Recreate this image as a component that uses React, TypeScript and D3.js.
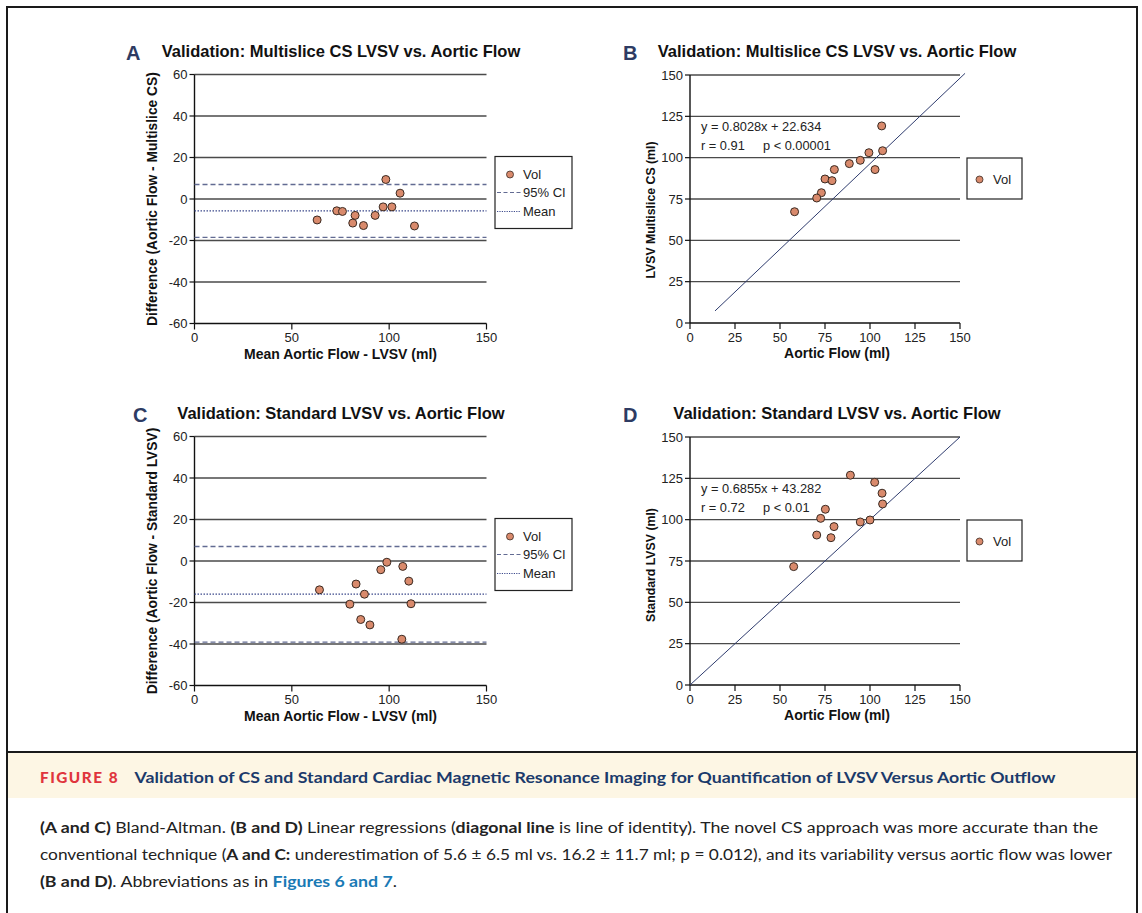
import React from "react";
import * as d3 from "d3";

// tick values
const baTicks = [-60, -40, -20, 0, 20, 40, 60];
const baXTicks = [0, 50, 100, 150];
const regTicks = [0, 25, 50, 75, 100, 125, 150];

// A: Bland-Altman multislice CS
const multisliceMean = [63.0, 73.1, 76.0, 82.5, 81.3, 86.8, 92.8, 96.9, 98.3, 101.4, 105.6, 113.0];
const multisliceDiff = [-10.1, -5.7, -6.0, -7.9, -11.6, -12.8, -7.9, -3.8, 9.4, -3.8, 2.8, -13.0];
const multisliceLimits = [7.0, -5.7, -18.5]; // upper 95% CI, mean, lower 95% CI

// C: Bland-Altman standard
const standardMean = [64.2, 83.0, 79.8, 87.3, 85.4, 90.1, 95.7, 98.8, 107.0, 110.1, 111.2, 106.5];
const standardDiff = [-13.9, -11.1, -20.8, -16.0, -28.2, -30.8, -4.2, -0.6, -2.6, -9.7, -20.6, -37.7];
const standardLimits = [7.0, -16.0, -39.1];

// B: regression multislice CS
const multisliceAortic = [106.5, 107.0, 99.4, 94.6, 88.5, 80.2, 102.8, 75.0, 78.9, 73.0, 70.4, 58.1];
const multisliceLvsv = [119.2, 104.2, 103.0, 98.4, 96.4, 92.8, 92.8, 87.1, 86.1, 78.8, 75.6, 67.3];
const multisliceIdentity: [number, number][] = [[13.9, 7.3], [152.8, 151]];

// D: regression standard
const standardAortic = [89.1, 102.6, 106.7, 107.0, 75.2, 72.6, 94.6, 100.0, 80.0, 70.4, 78.3, 57.6];
const standardLvsv = [126.9, 122.6, 116.0, 109.5, 106.3, 100.8, 98.6, 99.8, 95.8, 90.7, 89.1, 71.6];
const standardIdentity: [number, number][] = [[0, 0], [150, 150]];

const FONT = "'Liberation Sans', Arial, sans-serif";
const DOT_FILL = "#d98a6c";
const DOT_STROKE = "#3a2a22";
const GRID = "#4a4a4a";
const LETTER = "#2e3b63";
const TICK = 13;

function BlandAltman({ top, letter, letterX, title, yLabel, means, diffs, limits }: any) {
  const x = d3.scaleLinear().domain([0, 150]).range([194.5, 486.5]);
  const y = d3.scaleLinear().domain([-60, 60]).range([top + 249, top]);
  const midY = (y(60) + y(-60)) / 2;
  const lx = 495, ly = top + 82;
  return (
    <g fontFamily={FONT}>
      <text x={letterX} y={top - 14.5} fontSize={20} fontWeight="bold" fill={LETTER}>{letter}</text>
      <text x={341} y={top - 18} fontSize={16.5} fontWeight="bold" textAnchor="middle" fill="#111">{title}</text>
      {baTicks.map((t) => (
        <g key={t}>
          <line x1={x(0)} x2={x(150)} y1={y(t)} y2={y(t)} stroke={t === -60 ? "#111" : GRID} strokeWidth={1.4} />
          <line x1={x(0) - 5} x2={x(0)} y1={y(t)} y2={y(t)} stroke="#111" strokeWidth={1.2} />
          <text x={x(0) - 7} y={y(t)} dy="0.35em" fontSize={TICK} textAnchor="end" fill="#222">{t}</text>
        </g>
      ))}
      <line x1={x(0)} x2={x(0)} y1={y(60)} y2={y(-60)} stroke="#111" strokeWidth={1.4} />
      {baXTicks.map((t) => (
        <g key={t}>
          <line x1={x(t)} x2={x(t)} y1={y(-60)} y2={y(-60) + 6} stroke="#111" strokeWidth={1.2} />
          <text x={x(t)} y={y(-60) + 18.5} fontSize={TICK} textAnchor="middle" fill="#222">{t}</text>
        </g>
      ))}
      <text x={(x(0) + x(150)) / 2} y={y(-60) + 35} fontSize={14} fontWeight="bold" textAnchor="middle" fill="#111">Mean Aortic Flow - LVSV (ml)</text>
      <text transform={`translate(157,${midY}) rotate(-90)`} fontSize={13.8} fontWeight="bold" textAnchor="middle" fill="#111">{yLabel}</text>
      {/* limits of agreement */}
      <line x1={x(0)} x2={x(150)} y1={y(limits[0])} y2={y(limits[0])} stroke="#626b92" strokeWidth={1.3} strokeDasharray="5,3" />
      <line x1={x(0)} x2={x(150)} y1={y(limits[1])} y2={y(limits[1])} stroke="#3d4a8c" strokeWidth={1.2} strokeDasharray="1.5,1.5" />
      <line x1={x(0)} x2={x(150)} y1={y(limits[2])} y2={y(limits[2])} stroke="#626b92" strokeWidth={1.3} strokeDasharray="5,3" />
      {means.map((m: number, i: number) => (
        <circle key={i} cx={x(m)} cy={y(diffs[i])} r={4} fill={DOT_FILL} stroke={DOT_STROKE} strokeWidth={1} />
      ))}
      {/* legend */}
      <rect x={lx} y={ly} width={77} height={72} fill="#fff" stroke="#222" strokeWidth={1.2} />
      <circle cx={lx + 15} cy={ly + 18} r={3.5} fill={DOT_FILL} stroke={DOT_STROKE} strokeWidth={0.8} />
      <text x={lx + 28} y={ly + 22} fontSize={TICK} fill="#222">Vol</text>
      <line x1={lx + 2} x2={lx + 26} y1={ly + 36} y2={ly + 36} stroke="#626b92" strokeWidth={1.2} strokeDasharray="4,2.5" />
      <text x={lx + 28} y={ly + 40.5} fontSize={TICK} fill="#222">95% CI</text>
      <line x1={lx + 2} x2={lx + 26} y1={ly + 55} y2={ly + 55} stroke="#3d4a8c" strokeWidth={1.1} strokeDasharray="1.2,1.2" />
      <text x={lx + 28} y={ly + 59.5} fontSize={TICK} fill="#222">Mean</text>
    </g>
  );
}

function Regression({ top, letter, title, yLabel, labelMid, aortic, lvsv, identity, eq, r, p }: any) {
  const x = d3.scaleLinear().domain([0, 150]).range([690, 960]);
  const y = d3.scaleLinear().domain([0, 150]).range([top + 248, top]);
  const line = d3.line<[number, number]>().x((d) => x(d[0])).y((d) => y(d[1]));
  const lx = 967, ly = top + 83;
  return (
    <g fontFamily={FONT}>
      <text x={623} y={top - 15} fontSize={20} fontWeight="bold" fill={LETTER}>{letter}</text>
      <text x={837} y={top - 18.5} fontSize={16.5} fontWeight="bold" textAnchor="middle" fill="#111">{title}</text>
      {regTicks.map((t) => (
        <g key={t}>
          <line x1={x(0)} x2={x(150)} y1={y(t)} y2={y(t)} stroke={t === 0 ? "#111" : GRID} strokeWidth={1.4} />
          <line x1={x(0) - 5} x2={x(0)} y1={y(t)} y2={y(t)} stroke="#111" strokeWidth={1.2} />
          <text x={x(0) - 7} y={y(t)} dy="0.35em" fontSize={TICK} textAnchor="end" fill="#222">{t}</text>
          <line x1={x(t)} x2={x(t)} y1={y(0)} y2={y(0) + 6} stroke="#111" strokeWidth={1.2} />
          <text x={x(t)} y={y(0) + 18.7} fontSize={TICK} textAnchor="middle" fill="#222">{t}</text>
        </g>
      ))}
      <line x1={x(0)} x2={x(0)} y1={y(150)} y2={y(0)} stroke="#111" strokeWidth={1.4} />
      <text x={837} y={y(0) + 35} fontSize={14} fontWeight="bold" textAnchor="middle" fill="#111">Aortic Flow (ml)</text>
      <text transform={`translate(654.5,${top + labelMid}) rotate(-90)`} fontSize={12.3} fontWeight="bold" textAnchor="middle" fill="#111">{yLabel}</text>
      <path d={line(identity) || ""} fill="none" stroke="#2f3c6e" strokeWidth={1} />
      {aortic.map((a: number, i: number) => (
        <circle key={i} cx={x(a)} cy={y(lvsv[i])} r={4} fill={DOT_FILL} stroke={DOT_STROKE} strokeWidth={1} />
      ))}
      <text x={701} y={top + 56} fontSize={12.8} fill="#222">{eq}</text>
      <text x={701} y={top + 74.5} fontSize={12.8} fill="#222">{r}</text>
      <text x={763} y={top + 74.5} fontSize={12.8} fill="#222">{p}</text>
      <rect x={lx} y={ly} width={55} height={41} fill="#fff" stroke="#222" strokeWidth={1.2} />
      <circle cx={lx + 12.5} cy={ly + 21.5} r={3.5} fill={DOT_FILL} stroke={DOT_STROKE} strokeWidth={0.8} />
      <text x={lx + 26} y={ly + 25.5} fontSize={TICK} fill="#222">Vol</text>
    </g>
  );
}

export default function App() {
  const capFont = "Lato, 'Noto Sans', sans-serif";
  return (
    <svg width={1142} height={913} style={{ position: "absolute", left: 0, top: 0, background: "#fff" }}>
      <rect x={0} y={0} width={1142} height={913} fill="#fff" />
      <rect x={7} y={7} width={1130} height={1000} fill="none" stroke="#1a1a1a" strokeWidth={2} />

      <BlandAltman top={74.5} letter="A" letterX={126} title="Validation: Multislice CS LVSV vs. Aortic Flow"
        yLabel="Difference (Aortic Flow - Multislice CS)" means={multisliceMean} diffs={multisliceDiff} limits={multisliceLimits} />
      <Regression top={75} letter="B" title="Validation: Multislice CS LVSV vs. Aortic Flow" yLabel="LVSV Multislice CS (ml)" labelMid={135}
        aortic={multisliceAortic} lvsv={multisliceLvsv} identity={multisliceIdentity}
        eq="y = 0.8028x + 22.634" r="r = 0.91" p="p < 0.00001" />
      <BlandAltman top={436.5} letter="C" letterX={133} title="Validation: Standard LVSV vs. Aortic Flow"
        yLabel="Difference (Aortic Flow - Standard LVSV)" means={standardMean} diffs={standardDiff} limits={standardLimits} />
      <Regression top={437} letter="D" title="Validation: Standard LVSV vs. Aortic Flow" yLabel="Standard LVSV (ml)" labelMid={128}
        aortic={standardAortic} lvsv={standardLvsv} identity={standardIdentity}
        eq="y = 0.6855x + 43.282" r="r = 0.72" p="p < 0.01" />

      {/* caption */}
      <rect x={8} y={753} width={1128} height={45} fill="#fdf6e4" />
      <line x1={7} x2={1137} y1={752} y2={752} stroke="#1a1a1a" strokeWidth={2} />
      <text x={40} y={782.5} fontFamily={capFont} fontSize={15.5} fontWeight="900" fill="#e0353d" letterSpacing={1.5} textLength={79} lengthAdjust="spacingAndGlyphs">FIGURE 8</text>
      <text x={134.5} y={782.5} fontFamily={capFont} fontSize={16} fontWeight="bold" fill="#1b3a6b" textLength={921} lengthAdjust="spacingAndGlyphs">
        Validation of CS and Standard Cardiac Magnetic Resonance Imaging for Quantification of LVSV Versus Aortic Outflow
      </text>
      <text x={40} y={833} fontFamily={capFont} fontSize={15.5} fill="#222" textLength={1058} lengthAdjust="spacingAndGlyphs">
        <tspan fontWeight="bold">(A and C)</tspan> Bland-Altman. <tspan fontWeight="bold">(B and D)</tspan> Linear regressions (<tspan fontWeight="bold">diagonal line</tspan> is line of identity). The novel CS approach was more accurate than the
      </text>
      <text x={40} y={860} fontFamily={capFont} fontSize={15.5} fill="#222" textLength={1072} lengthAdjust="spacingAndGlyphs">
        conventional technique (<tspan fontWeight="bold">A and C:</tspan> underestimation of 5.6 ± 6.5 ml vs. 16.2 ± 11.7 ml; p = 0.012), and its variability versus aortic flow was lower
      </text>
      <text x={40} y={887} fontFamily={capFont} fontSize={15.5} fill="#222" textLength={357} lengthAdjust="spacingAndGlyphs">
        <tspan fontWeight="bold">(B and D)</tspan>. Abbreviations as in <tspan fontWeight="bold" fill="#1a7ab5">Figures 6 and 7</tspan>.
      </text>
    </svg>
  );
}
